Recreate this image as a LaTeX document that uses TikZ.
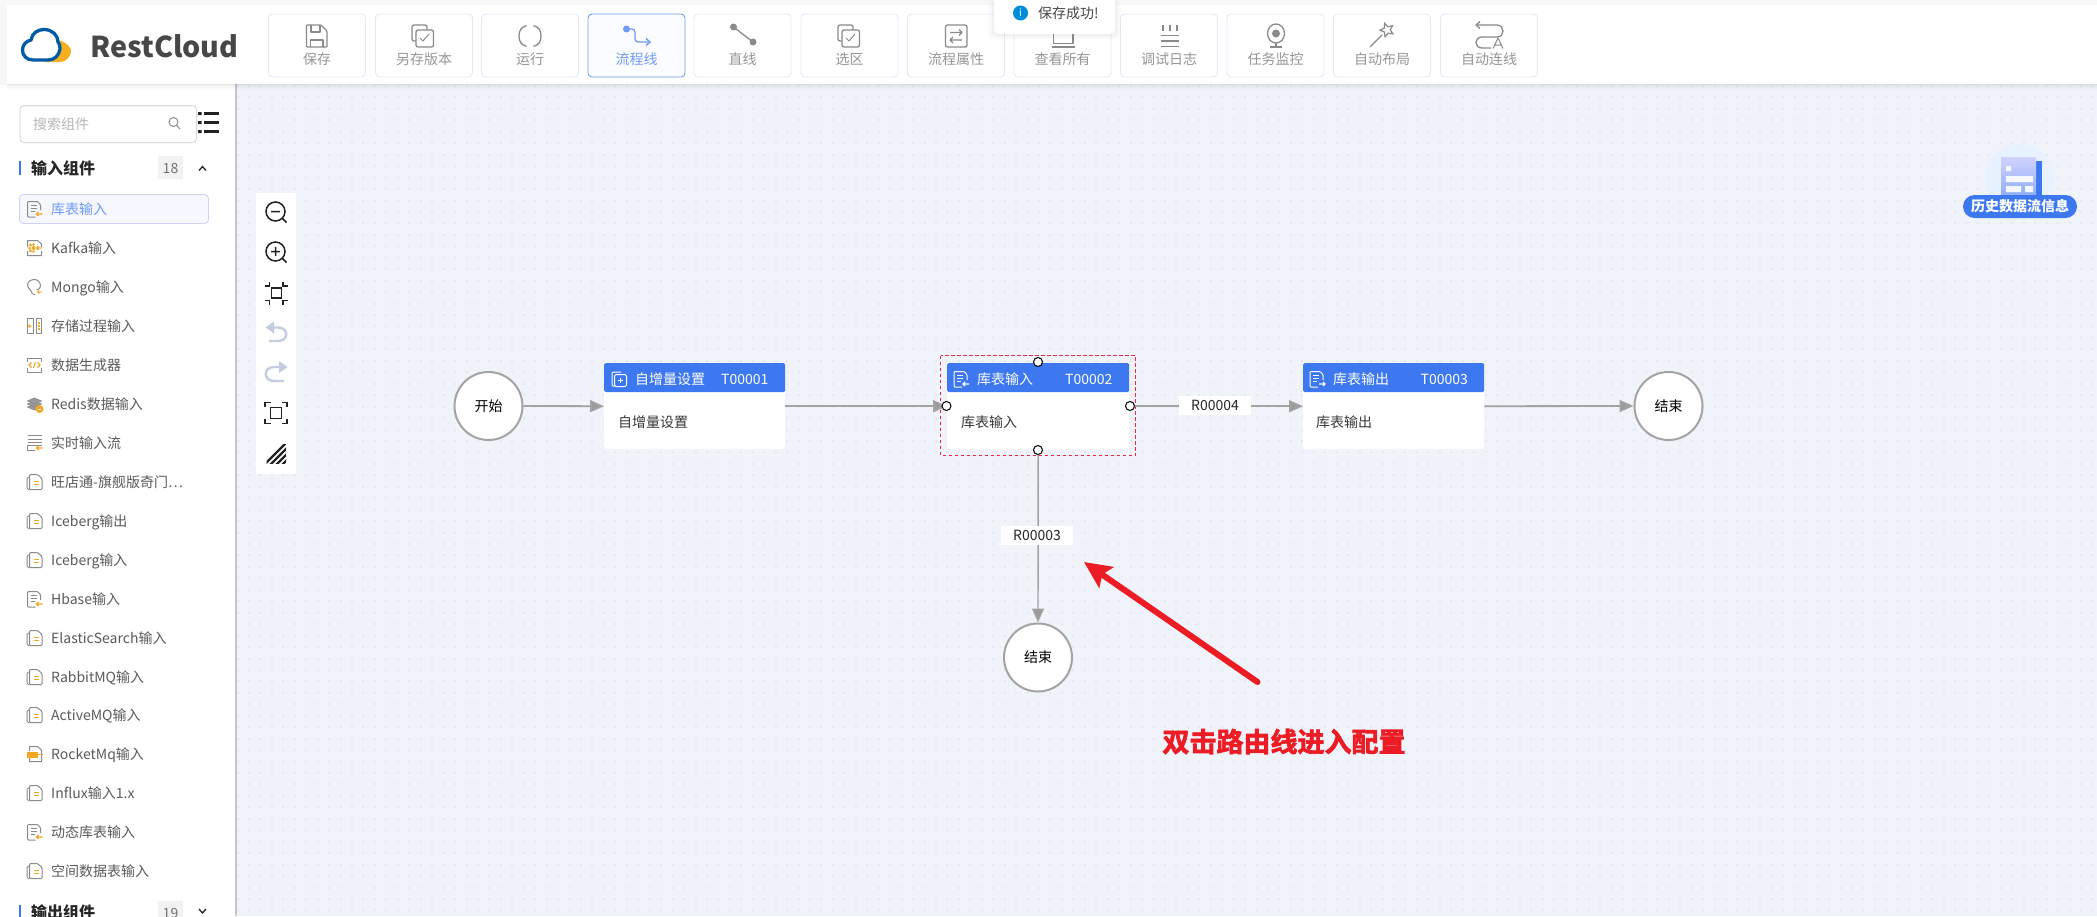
\documentclass[tikz,border=0pt]{standalone}
\usepackage{fontspec}
\setmainfont{Noto Sans CJK SC}
\font\notefont="Noto Sans CJK SC Bold:embolden=2.5" at 27pt
\usetikzlibrary{arrows.meta,shapes.geometric}
\definecolor{canvasbg}{HTML}{F0F3FA}
\definecolor{dotc}{HTML}{E5E8F1}
\definecolor{hdrblue}{HTML}{3D78F0}
\definecolor{btnline}{HTML}{E2EAF6}
\definecolor{tbgray}{HTML}{8A8A8A}
\definecolor{tbtext}{HTML}{969696}
\definecolor{actblue}{HTML}{6E9BF7}
\definecolor{itemtext}{HTML}{5A5A5A}
\definecolor{iconorange}{HTML}{F5A623}
\definecolor{flowgray}{HTML}{A3A3A3}
\definecolor{noteRed}{HTML}{ED1C24}
\definecolor{selRed}{HTML}{EE2A3C}
\definecolor{toolDark}{HTML}{222222}
\definecolor{toolLight}{HTML}{C3CCE0}
\definecolor{histhalo}{HTML}{E8F2FE}
\tikzset{
  px/.style={font=\fontsize{14}{16}\selectfont,inner sep=0pt,text height=12pt,text depth=1.5pt},
  tbbtn/.style={draw=btnline,fill=white,rounded corners=4pt,minimum width=97pt,minimum height=63pt,line width=.9pt,inner sep=0pt},
  tbact/.style={tbbtn,draw=actblue,fill=white!97!actblue},
  tb/.style={draw=tbgray,line width=1.3pt,line join=round},
  tbl/.style={px,text=tbtext},
  itemlab/.style={px,anchor=west,text=itemtext},
  hdr/.style={fill=hdrblue,minimum width=#1,minimum height=29pt,inner sep=0pt,rounded corners=1.5pt,anchor=north west},
  card/.style={fill=white,minimum width=#1,minimum height=86pt,inner sep=0pt,rounded corners=3pt,anchor=north west},
  ev/.style={circle,draw=flowgray,fill=white,line width=2pt,minimum size=68pt,inner sep=0pt,px,text=black},
  flow/.style={draw=flowgray,line width=1.8pt,-{Triangle[length=14pt,width=12pt,fill=flowgray!95!black]}},
  handle/.style={circle,draw=black,fill=white,line width=1pt,minimum size=9pt,inner sep=0pt},
  rlabel/.style={fill=white,minimum width=72pt,minimum height=19pt,px,text=black!85},
  hdrt/.style={px,anchor=west,text=white},
  tool/.style={draw=toolDark,line width=1.5pt},
  toollt/.style={draw=toolLight,line width=2.4pt},
  heading/.style={font=\fontsize{16}{18}\selectfont\bfseries,inner sep=0pt,anchor=west,text=black!85,text height=13.5pt,text depth=2pt},
  sicon/.style={draw=tbgray,line width=1pt,line join=round},
}
% sidebar / header icons
\newcommand{\docarrow}[4]{\begin{scope}[shift={(#1,#2)}]
  \draw[draw=#3,line width=1pt,rounded corners=1pt] (1,8) -- (-7,8) -- (-7,-7.5) -- (3,-7.5) -- (6,-4.5) -- (6,1);
  \draw[draw=#3,line width=1pt] (-4,-3.5) -- (2,-3.5) (-4,-.5) -- (2,-.5) (-4,2.5) -- (0,2.5);
  \draw[draw=#4,line width=1.1pt] (8,5) -- (2,5) (4,3) -- (2,5) -- (4,7);
\end{scope}}
\newcommand{\copyicon}[1]{\begin{scope}[shift={(34.5,#1)}]
  \draw[sicon,rounded corners=1.5pt] (-5,7.5) -- (-7.5,7.5) -- (-7.5,-5) -- (-4,-5);
  \draw[sicon,fill=white,rounded corners=1pt] (-5,-7.5) -- (3,-7.5) -- (7.5,-3.5) -- (7.5,7.5) -- (-5,7.5) -- cycle;
  \draw[draw=iconorange,line width=1.2pt] (-1,-.5) -- (4,-.5) (-1,2.5) -- (4,2.5);
\end{scope}}
\newcommand{\copybox}[1]{\begin{scope}[shift={(#1,36)}]
  \draw[tb,rounded corners=2pt] (-11,-11) rectangle (4,5);
  \draw[tb,fill=white,rounded corners=2pt] (-7,-6) rectangle (10.5,11);
  \draw[tb,line width=1pt] (-3,2) -- (0,5) -- (6,-2);
\end{scope}}
\begin{document}
\begin{tikzpicture}[x=1pt,y=-1pt]
\clip (0,0) rectangle (2097,916);
\useasboundingbox (0,0) rectangle (2097,916);
% backgrounds
\fill[canvasbg] (0,0) rectangle (2097,916);
\foreach \r in {0,...,72} {
  \draw[dotc,line width=2pt,dash pattern=on 2pt off 9.45pt] (236.5,86+\r*11.45) -- (2097,86+\r*11.45);
}
\fill[white] (0,84) rectangle (235,916);
\fill[black!18!canvasbg] (235,84) rectangle (236.5,916);
\fill[white!97!black] (0,0) rectangle (2097,5);
\fill[white!97!black] (0,0) rectangle (7,85);
\foreach \o/\a in {5/.015,3.5/.02,2/.025,1/.03} \fill[black,opacity=\a] (7,84) rectangle (2097,84+\o);
\fill[white] (7,5) rectangle (2097,84);
% logo
\fill[iconorange!90!yellow] (59,40) .. controls (67,43) and (72,48) .. (71,52) .. controls (70,58) and (65,62) .. (60,62) -- (44,62) .. controls (55,60) and (62,52) .. (59,40) -- cycle;
\draw[draw=blue!45!cyan!65!black,line width=3.3pt,fill=white] (33,60) .. controls (26,60) and (22.5,55) .. (22.5,50) .. controls (22.5,45) and (26,41) .. (31,40) .. controls (32,33) and (38,29.5) .. (44,29.5) .. controls (52,29.5) and (58,35) .. (58,42) .. controls (60,45) and (60,47) .. (60,49) .. controls (59,55) and (55,60) .. (48,60) -- cycle;
\node[anchor=west,inner sep=0pt,text=black!72,font=\fontsize{28.7}{32}\selectfont\bfseries] (logotext) at (90,46) {RestCloud};
% toolbar buttons
\foreach \n/\cx/\lab in {1/317/保存,2/424/另存版本,3/530/运行,5/742.5/直线,6/849.5/选区,7/956/流程属性,8/1062.5/查看所有,9/1169/调试日志,10/1275.5/任务监控,11/1382/自动布局,12/1489/自动连线} {
  \node[tbbtn] (btn\n) at (\cx,45.5) {};
  \node[tbl] (btnlab\n) at (\cx,59) {\lab};
}
\node[tbact] (btn4) at (636.5,45.5) {};
\node[px,text=actblue] (btnlab4) at (636.5,59) {流程线};
% toolbar icons
\draw[tb,rounded corners=1pt] (306.5,25) -- (321,25) -- (327,31) -- (327,47) -- (306.5,47) -- cycle;
\draw[tb] (311,25) -- (311,32) -- (320,32) -- (320,25) (310.5,47) -- (310.5,40) -- (323,40) -- (323,47);
\copybox{423}
\draw[tb] (526.5,25.6) .. controls (521,27) and (519,31) .. (519,36) .. controls (519,41) and (521,45) .. (526.5,46.4);
\draw[tb] (533.5,25.6) .. controls (539,27) and (541,31) .. (541,36) .. controls (541,41) and (539,45) .. (533.5,46.4);
\fill[actblue] (626.5,29) circle (3.5pt);
\draw[actblue,line width=1.3pt,rounded corners=3pt] (626.5,29) -- (635,29) -- (635,42) -- (648,42);
\draw[actblue,line width=1.4pt] (646,38.5) -- (650,42) -- (646,45.5);
\fill[tbgray] (733.5,27) circle (3.5pt) (753,42) circle (3.5pt);
\draw[tb] (733.5,27) -- (753,42);
\copybox{849}
\draw[tb,rounded corners=2pt] (945.5,25) rectangle (967,47);
\draw[tb,line width=1.1pt] (950,32.5) -- (962,32.5) (959,29.5) -- (962,32.5) -- (959,35.5);
\draw[tb,line width=1.1pt] (950,40) -- (962,40) (953,37) -- (950,40) -- (953,43);
\draw[tb] (1053.5,30) -- (1053.5,43.5) -- (1073,43.5) -- (1073,30) (1052,47) -- (1074.5,47);
\draw[tb] (1163,25) -- (1163,31) (1170,25) -- (1170,31) (1177,25) -- (1177,31) (1161,35.5) -- (1179,35.5) (1161,41) -- (1179,41) (1161,46.5) -- (1179,46.5);
\draw[tb] (1276,33.5) ellipse (8.5pt and 9.5pt);
\fill[tbgray] (1276,33.5) circle (4pt);
\draw[tb] (1276,43) -- (1276,46.5) (1270,47) -- (1282,47);
\draw[tb] (1370,47) -- (1382,35);
\node[draw=tbgray,line width=1.2pt,star,star points=5,star point ratio=2.1,minimum size=14pt,inner sep=0pt,rotate=20] (wandstar) at (1387,30) {};
\draw[tb] (1477,25) -- (1497,25) .. controls (1505,25) and (1505,37) .. (1497,37) -- (1482,37) .. controls (1474,37) and (1474,48) .. (1482,48) -- (1491,48);
\draw[tb] (1480,21.5) -- (1476,25) -- (1480,28.5);
\draw[tb,line width=1pt] (1493,48.5) -- (1498,38) -- (1503,48.5) (1494.5,45) -- (1501.5,45);
% toast
\foreach \o/\a in {6/.012,4/.018,2/.025} \fill[black,opacity=\a,rounded corners=5pt] (994-\o,0) rectangle (1115+\o,34+\o);
\fill[white,rounded corners=5pt] (994,-8) rectangle (1115,34);
\node[circle,fill=blue!35!cyan!85!black,minimum size=15pt,inner sep=0pt,text=white,font=\fontsize{10}{10}\selectfont] (toasticon) at (1020.5,13) {i};
\node[px,anchor=west,text=black!72] (toast) at (1038,13) {保存成功!};
% sidebar top
\node[draw=black!15,rounded corners=4pt,minimum width=176.5pt,minimum height=37pt,inner sep=0pt,line width=1pt,anchor=north west] (search) at (19.5,105) {};
\node[px,anchor=west,text=black!28] (searchtxt) at (33,124) {搜索组件};
\draw[draw=black!45,line width=1pt] (173.5,122) circle (4.5pt) (176.7,125.2) -- (180,129);
\draw[toolDark,line width=2.4pt] (204,113.5) -- (219,113.5) (204,122.5) -- (219,122.5) (204,131.5) -- (219,131.5);
\fill[toolDark] (198,112) rectangle (201.5,115) (198,121) rectangle (201.5,124) (198,130) rectangle (201.5,133);
% headings
\fill[hdrblue] (19,161) rectangle (21,175);
\node[heading] (headin) at (31,169) {输入组件};
\fill[black!5] (158,156) rectangle (183,179);
\node[px,text=black!55] (countin) at (170.5,168) {18};
\draw[draw=black!85,line width=1.3pt] (199,170.5) -- (202.5,166.5) -- (206,170.5);
\fill[hdrblue] (19,905) rectangle (21,919);
\node[heading] (headout) at (31,913) {输出组件};
\fill[black!5] (158,901) rectangle (183,924);
\node[px,text=black!55] (countout) at (170.5,913) {19};
\draw[draw=black!85,line width=1.3pt] (199,909) -- (202.5,913) -- (206,909);
% sidebar items
\node[draw=blue!18,fill=white!97!blue,rounded corners=4pt,minimum width=189pt,minimum height=29pt,inner sep=0pt,line width=.9pt,anchor=north west] (sel) at (19,194) {};
\node[itemlab,text=actblue] (it1) at (51,209) {库表输入};
\foreach \n/\yy/\lab in {2/248/Kafka输入,3/287/Mongo输入,4/326/存储过程输入,5/365/数据生成器,6/404/Redis数据输入,7/443/实时输入流,8/482/旺店通-旗舰版奇门⋯,9/521/Iceberg输出,10/560/Iceberg输入,11/599/Hbase输入,12/638/ElasticSearch输入,13/677/RabbitMQ输入,14/715/ActiveMQ输入,15/754/RocketMq输入,16/793/Influx输入1.x,17/832/动态库表输入,18/871/空间数据表输入} {
  \node[itemlab] (it\n) at (51,\yy) {\lab};
}
\docarrow{34.5}{209}{tbgray}{iconorange}
\docarrow{34.5}{599}{tbgray}{iconorange}
\docarrow{34.5}{832}{tbgray}{iconorange}
\foreach \yy in {482,521,560,638,677,715,793,871} {\copyicon{\yy}}
% kafka icon
\begin{scope}[shift={(34.5,248)}]
  \draw[sicon] (-7,-1) -- (-7,-7.5) -- (3,-7.5) -- (7,-4) -- (7,-1) (7,3) -- (7,7.5) -- (-7,7.5) -- (-7,3);
  \fill[iconorange] (-4,-3) circle (1.7pt) (-4,3) circle (1.7pt) (-1,0) circle (2pt) (-5,0) circle (1.5pt) (-1,-3.5) circle (1.3pt) (-1,3.5) circle (1.3pt);
  \draw[draw=iconorange,line width=1.1pt] (7,0) -- (2,0) (4,-2) -- (2,0) -- (4,2);
\end{scope}
% mongo icon
\begin{scope}[shift={(34.5,287)}]
  \draw[sicon] (-2,7) .. controls (-3,3) and (-7,1) .. (-7,-2) .. controls (-7,-6) and (-3,-7.5) .. (0,-7.5) .. controls (3,-7.5) and (6,-5) .. (6,-1) .. controls (6,1) and (4,3) .. (2,3);
  \draw[sicon] (-2,7) -- (0,7);
  \draw[draw=iconorange,line width=1pt] (7,5) -- (3,5) (4.5,3.5) -- (3,5) -- (4.5,6.5);
\end{scope}
% stored proc icon
\begin{scope}[shift={(34.5,326)}]
  \draw[sicon] (-7,-7.5) rectangle (-1.5,7.5) (1.5,-7.5) rectangle (7,7.5);
  \draw[draw=iconorange,line width=1pt] (-3,0) -- (-6,0) (-4.5,-1.5) -- (-6,0) -- (-4.5,1.5);
  \draw[draw=iconorange,line width=1.2pt] (3,-3) -- (5.5,-3) (3,0) -- (5.5,0) (3,3) -- (5.5,3);
\end{scope}
% generator icon
\begin{scope}[shift={(34.5,365)}]
  \draw[sicon] (-7,-3) -- (-7,-7) -- (7,-7) -- (7,-3) (-7,3) -- (-7,7) -- (7,7) -- (7,3);
  \draw[draw=iconorange,line width=1.1pt] (-3,-2.5) -- (-5.5,0) -- (-3,2.5) (3,-2.5) -- (5.5,0) -- (3,2.5) (-1,3) -- (1,-3);
\end{scope}
% redis icon
\begin{scope}[shift={(34.5,404)}]
  \foreach \d in {3,0,-3} \draw[draw=tbgray,fill=black!40,line width=.7pt] (-7,\d) -- (0,\d-3) -- (7,\d) -- (0,\d+3) -- cycle;
  \fill[iconorange] (5,5) circle (4pt);
  \fill[white] (3.5,4.5) rectangle (6.5,5.5);
\end{scope}
% stream icon
\begin{scope}[shift={(34.5,443)}]
  \draw[sicon] (-7,-7.5) -- (7,-7.5) (7,-4) -- (-7,-4) (-7,-1) -- (7,-1) (7,2) -- (-7,2) -- (-7,7.5) -- (0,7.5);
  \draw[draw=iconorange,line width=1.1pt] (8,5) -- (2,5) (4,3) -- (2,5) -- (4,7);
\end{scope}
% rocket icon
\begin{scope}[shift={(34.5,754)}]
  \draw[sicon] (-5,-3) -- (-5,-7.5) -- (3,-7.5) -- (7,-4) -- (7,7.5) -- (-5,7.5) -- (-5,4);
  \fill[iconorange] (-7.5,-2.5) rectangle (3,3.5);
  \draw[draw=iconorange,line width=1pt] (3,.5) -- (8,.5);
\end{scope}
% left tool panel
\fill[white] (256,193) rectangle (296,474);
\node[circle,draw=toolDark,line width=1.5pt,minimum size=19pt,inner sep=0pt] (zoomout) at (275.5,211.5) {};
\draw[tool] (282.5,218.5) -- (286.5,222.5) (271,211.5) -- (280,211.5);
\node[circle,draw=toolDark,line width=1.5pt,minimum size=19pt,inner sep=0pt] (zoomin) at (275.5,251.5) {};
\draw[tool] (282.5,258.5) -- (286.5,262.5) (271,251.5) -- (280,251.5) (275.5,247) -- (275.5,256);
\draw[tool,line width=1.4pt] (271.7,288) rectangle (281.7,298);
\draw[tool,line width=1.3pt] (269.5,281.5) -- (269.5,286) -- (264.5,286) (283,281.5) -- (283,286) -- (288,286) (269.5,305) -- (269.5,300.5) -- (264.5,300.5) (283,305) -- (283,300.5) -- (288,300.5);
\draw[toollt] (268,327.5) -- (278,327.5) .. controls (289,327.5) and (289,341) .. (278,341) -- (269,341);
\fill[toolLight] (265.5,327.5) -- (274,321.5) -- (274,333.5) -- cycle;
\draw[toollt] (285,367) -- (274,367) .. controls (263,367) and (263,381) .. (274,381) -- (284,381);
\fill[toolLight] (287.5,367) -- (279,361) -- (279,373) -- cycle;
\draw[tool,line width=1.6pt] (270.5,407.5) rectangle (281.5,418.5);
\draw[tool,line width=1.8pt] (265,407) -- (265,402.5) -- (270.5,402.5) (287,407) -- (287,402.5) -- (281.5,402.5) (265,419) -- (265,423.5) -- (270.5,423.5) (287,419) -- (287,423.5) -- (281.5,423.5);
\begin{scope}
\clip (266.5,444) rectangle (286,463);
\foreach \d in {0,6,12,18,24,30} \draw[tool,line width=2.2pt] (262+\d,467) -- (262+\d+24,443);
\end{scope}
% history icon
\fill[histhalo] (2019,178) circle (34pt);
\fill[hdrblue] (2032,161) rectangle (2042,204);
\shade[top color=blue!18!white,bottom color=hdrblue!65!white,rounded corners=1pt] (2001,157) rectangle (2036,204);
\fill[white,opacity=.9] (2006,166) rectangle (2011,171) (2006,176) rectangle (2033,182) (2006,186) rectangle (2021,192) (2025,186) rectangle (2033,192);
\node[fill=hdrblue,rounded corners=11.5pt,minimum width=114pt,minimum height=23pt,inner sep=0pt,text=white,font=\fontsize{14}{16}\selectfont\bfseries,text height=12pt,text depth=1.5pt] (hist) at (2020,206.5) {历史数据流信息};
% flow nodes
\node[ev] (start) at (488.5,406) {开始};
\node[ev] (end1) at (1668.5,406) {结束};
\node[ev] (end2) at (1038,657.5) {结束};
\node[card=181pt] (n1) at (604,363) {};
\node[card=182pt] (n2) at (947,363) {};
\node[card=181pt] (n3) at (1303,363) {};
\node[hdr=181pt] (h1) at (604,363) {};
\node[hdr=182pt] (h2) at (947,363) {};
\node[hdr=181pt] (h3) at (1303,363) {};
\node[hdrt] (t1) at (635,379) {自增量设置};
\node[hdrt] (c1) at (721,379) {T00001};
\node[hdrt] (t2) at (977,379) {库表输入};
\node[hdrt] (c2) at (1065,379) {T00002};
\node[hdrt] (t3) at (1333,379) {库表输出};
\node[hdrt] (c3) at (1420.5,379) {T00003};
\node[px,anchor=west,text=black!78] (b1) at (618,422) {自增量设置};
\node[px,anchor=west,text=black!78] (b2) at (961,422) {库表输入};
\node[px,anchor=west,text=black!78] (b3) at (1316,422) {库表输出};
% header icons
\begin{scope}[shift={(619,378)}]
  \draw[white,line width=1pt,rounded corners=1pt] (-4,8) -- (-7,8) -- (-7,-6) -- (2,-6);
  \draw[white,line width=1pt,rounded corners=1.5pt] (-4.5,-3.5) rectangle (7.5,8.5);
  \draw[white,line width=1pt] (-1,2.5) -- (4,2.5) (1.5,0) -- (1.5,5);
\end{scope}
\docarrow{961}{379}{white}{white}
\begin{scope}[shift={(1317,379)}]
  \draw[white,line width=1pt,rounded corners=1pt] (1,8) -- (-7,8) -- (-7,-7.5) -- (3,-7.5) -- (6,-4.5) -- (6,1);
  \draw[white,line width=1pt] (-4,-3.5) -- (2,-3.5) (-4,-.5) -- (2,-.5) (-4,2.5) -- (0,2.5);
  \draw[white,line width=1.1pt] (2,5) -- (8,5) (6,3) -- (8,5) -- (6,7);
\end{scope}
% selection
\draw[draw=selRed,line width=1pt,dash pattern=on 3.5pt off 2.5pt] (940.5,355.5) rectangle (1135.5,455.5);
% connectors
\draw[flow] (start.east) -- (n1.west);
\draw[flow] (n1.east) -- (n2.west);
\draw[flow] (n2.east) -- (n3.west);
\draw[flow] (n3.east) -- (end1.west);
\draw[flow,line width=1.4pt] (n2.south) -- (end2.north);
\node[rlabel] (r4) at (1215,405) {R00004};
\node[rlabel] (r3) at (1037,535.5) {R00003};
\node[handle] (ht) at (1038,362) {};
\node[handle] (hl) at (946.5,406) {};
\node[handle] (hr) at (1130,406) {};
\node[handle] (hb) at (1038,450) {};
% annotation
\coordinate (notetail) at (1257.5,682);
\coordinate (notetip) at (1084,562);
\draw[draw=noteRed,line width=6pt,line cap=round,-{Stealth[length=27pt,width=25pt,inset=5pt,fill=noteRed]}] (notetail) -- (notetip);
\node[inner sep=0pt,text=noteRed] (note) at (1284,741.5) {\notefont 双击路由线进入配置};
\end{tikzpicture}
\end{document}
